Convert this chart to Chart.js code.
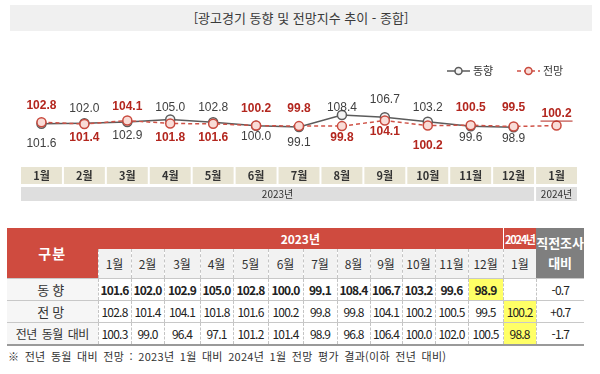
<!DOCTYPE html>
<html lang="ko">
<head>
<meta charset="utf-8">
<script src="https://cdn.jsdelivr.net/npm/chart.js@4.4.1/dist/chart.umd.min.js"></script>
<style>
  body { margin:0; width:600px; height:374px; background:#fff; position:relative; overflow:hidden;
         font-family:"Noto Sans CJK KR", sans-serif; color:#333; }
  #title { position:absolute; left:10px; top:5px; width:582px; height:26px; background:#f0f0f0;
           text-align:center; font-size:13px; line-height:26px; color:#3a3a3a; }
  #c { position:absolute; left:0; top:30px; }
  #tbl { position:absolute; left:7px; top:228px; border-collapse:collapse; table-layout:fixed; width:577px; }
  #tbl th, #tbl td { padding:0; text-align:center; white-space:nowrap; overflow:hidden; }
  #tbl .red { background:#cf4b3f; color:#fff; font-weight:bold; }
  #tbl .gubun { font-size:14px; letter-spacing:1px; }
  #tbl .y23 { font-size:12px; height:21px; }
  #tbl .y24 { font-size:11px; letter-spacing:-1.3px; border-left:1px solid #fff; }
  #tbl .prev { background:#7f7f7f; color:#fff; font-size:13px; font-weight:bold; line-height:20px; }
  #tbl .mon { background:#f2f2f2; color:#333; font-weight:normal; font-size:12px; height:29px;
              border-left:1px dashed #c4c4c4; }
  #tbl td { height:21px; font-size:12px; letter-spacing:-0.8px; color:#222;
            border-top:1px solid #c8c8c8; border-left:1px dashed #c4c4c4; }
  #tbl td.name { background:#f6f6f6; font-size:13px; letter-spacing:3px; color:#333; border-left:none; }
  #tbl td.name.long { font-size:12px; letter-spacing:-0.5px; word-spacing:2px; }
  #tbl tr.bold td { font-weight:bold; }
  #tbl tr.bold td.name, #tbl tr.bold td.chg { font-weight:normal; }
  #tbl tr:last-child td { border-bottom:2px solid #9a9a9a; }
  #tbl td.hl { background:#ffff66; }
  #note { position:absolute; left:8px; top:348px; font-size:11px; line-height:16px; color:#333;
          letter-spacing:0.3px; word-spacing:2px; }
</style>
</head>
<body>
<div id="title">[광고경기 동향 및 전망지수 추이 - 종합]</div>
<canvas id="c" width="600" height="180"></canvas>
<table id="tbl"></table>
<div id="note">※ 전년 동월 대비 전망 : 2023년 1월 대비 2024년 1월 전망 평가 결과(이하 전년 대비)</div>
<script>
// 데이터
const months = ['1월', '2월', '3월', '4월', '5월', '6월', '7월', '8월', '9월', '10월', '11월', '12월', '1월'];
const years = ['2023년', '2024년'];
const yearSpan = [12, 1];
const trend = [101.6, 102.0, 102.9, 105.0, 102.8, 100.0, 99.1, 108.4, 106.7, 103.2, 99.6, 98.9, null];
const outlook = [102.8, 101.4, 104.1, 101.8, 101.6, 100.2, 99.8, 99.8, 104.1, 100.2, 100.5, 99.5, 100.2];
const yoy = [100.3, 99.0, 96.4, 97.1, 101.2, 101.4, 98.9, 96.8, 106.4, 100.0, 102.0, 100.5, 98.8];
const change = ['-0.7', '+0.7', '-1.7'];
const rowNames = ['동향', '전망', '전년 동월 대비'];

// 라벨 위치 미세조정 (px)
const trendNudge = [6, 0, 0, 3, 0, -3, 2, 8, -3, 1, -3, -3, 0];
const outlookNudge = [-2, 0, 1, 0, 0, -2, -2, -2, -3, 6, -3, -4, 3];

const GRAY = '#5b5b5b';
const RED = '#cf5247';

// 점 위/아래 값 라벨
const labelPlugin = {
  id: 'valueLabels',
  afterDatasetsDraw(chart) {
    const ctx = chart.ctx;
    const mT = chart.getDatasetMeta(0);
    const mO = chart.getDatasetMeta(1);
    ctx.save();
    ctx.textAlign = 'center';
    ctx.textBaseline = 'middle';
    months.forEach((m, i) => {
      const items = [];
      if (trend[i] != null) items.push({ v: trend[i], p: mT.data[i], red: false, n: trendNudge[i] });
      if (outlook[i] != null) items.push({ v: outlook[i], p: mO.data[i], red: true, n: outlookNudge[i] });
      const top = items.reduce((a, b) => (b.v > a.v ? b : a), items[0]);
      items.forEach(it => {
        const above = it === top;
        const y = it.p.y + (above ? -15 : 14) + it.n;
        ctx.font = it.red ? 'bold 12px "Liberation Sans"' : '12px "Liberation Sans"';
        ctx.fillStyle = it.red ? '#b3261e' : '#404040';
        const txt = it.v.toFixed(1);
        ctx.fillText(txt, it.p.x, y);
        if (trend[i] == null) {
          const w = ctx.measureText(txt).width;
          ctx.strokeStyle = '#b3261e';
          ctx.lineWidth = 1;
          ctx.beginPath();
          ctx.moveTo(it.p.x - w / 2 - 1, y + 7.5);
          ctx.lineTo(it.p.x + w / 2 + 1, y + 7.5);
          ctx.stroke();
        }
      });
    });
    ctx.restore();
  }
};

// 월/연도 박스
const boxPlugin = {
  id: 'monthBoxes',
  afterDraw(chart) {
    const ctx = chart.ctx;
    const x = chart.scales.x;
    const bw = x.getPixelForValue(1) - x.getPixelForValue(0);
    ctx.save();
    ctx.textAlign = 'center';
    ctx.textBaseline = 'middle';
    months.forEach((m, i) => {
      const cx = x.getPixelForValue(i);
      ctx.fillStyle = '#e8e4d2';
      ctx.fillRect(cx - bw / 2 + 1, 137, bw - 2, 17);
      ctx.fillStyle = '#333';
      ctx.font = 'bold 11px "Noto Sans CJK KR"';
      ctx.fillText(m, cx, 146);
    });
    let start = 0;
    years.forEach((yr, k) => {
      const end = start + yearSpan[k] - 1;
      const l = x.getPixelForValue(start) - bw / 2 + 1;
      const r = x.getPixelForValue(end) + bw / 2 - 1;
      ctx.fillStyle = '#dedede';
      ctx.fillRect(l, 157, r - l, 14);
      ctx.fillStyle = '#333';
      ctx.font = '10px "Noto Sans CJK KR"';
      ctx.fillText(yr, (l + r) / 2, 164.5);
      start = end + 1;
    });
    ctx.restore();
  }
};

// 범례
const legendPlugin = {
  id: 'lineLegend',
  afterDraw(chart) {
    const ctx = chart.ctx;
    const entries = [
      { ds: chart.data.datasets[0], x: 447 },
      { ds: chart.data.datasets[1], x: 517 }
    ];
    ctx.save();
    entries.forEach(({ ds, x }) => {
      const y = 41;
      ctx.strokeStyle = ds.borderColor;
      ctx.lineWidth = 1.5;
      ctx.setLineDash(ds.borderDash || []);
      ctx.beginPath();
      ctx.moveTo(x, y);
      ctx.lineTo(x + 23, y);
      ctx.stroke();
      ctx.setLineDash([]);
      ctx.beginPath();
      ctx.arc(x + 11.5, y, 3.5, 0, Math.PI * 2);
      ctx.fillStyle = ds.pointBackgroundColor;
      ctx.fill();
      ctx.strokeStyle = ds.pointBorderColor;
      ctx.stroke();
      ctx.fillStyle = '#333';
      ctx.font = '11px "Noto Sans CJK KR"';
      ctx.textBaseline = 'middle';
      ctx.fillText(ds.label, x + 26, y);
    });
    ctx.restore();
  }
};

new Chart(document.getElementById('c'), {
  type: 'line',
  data: {
    labels: months,
    datasets: [
      {
        label: '동향', data: trend, order: 1,
        borderColor: GRAY, borderWidth: 1.5, tension: 0,
        pointRadius: 4.5, pointBorderWidth: 1.5,
        pointBackgroundColor: '#f4f4f4', pointBorderColor: GRAY
      },
      {
        label: '전망', data: outlook, order: 0,
        borderColor: RED, borderWidth: 1.5, borderDash: [4, 3], tension: 0,
        pointRadius: 4.5, pointBorderWidth: 1.5,
        pointBackgroundColor: '#f9dcd7', pointBorderColor: '#c94a3e'
      }
    ]
  },
  options: {
    responsive: false,
    devicePixelRatio: 1,
    animation: false,
    layout: { padding: { left: 20, right: 22, top: 50, bottom: 48 } },
    scales: {
      x: { display: false, offset: true },
      y: { display: false, min: 72, max: 135.5 }
    },
    plugins: { legend: { display: false }, tooltip: { enabled: false } }
  },
  plugins: [labelPlugin, boxPlugin, legendPlugin]
});

// 표 만들기
const colW = [91, 33, 33, 36, 33, 35, 35, 34, 33, 32, 33, 33, 35, 33, 48];
const tbl = document.getElementById('tbl');
let html = '<colgroup>' + colW.map(w => `<col style="width:${w}px">`).join('') + '</colgroup>';
html += `<tr><th class="red gubun" rowspan="2">구분</th>`;
years.forEach((yr, k) => {
  html += `<th class="red ${k === 0 ? 'y23' : 'y24'}" colspan="${yearSpan[k]}">${yr}</th>`;
});
html += `<th class="prev" rowspan="2">직전조사<br>대비</th></tr>`;
html += '<tr>' + months.map(m => `<th class="mon">${m}</th>`).join('') + '</tr>';

const rows = [trend, outlook, yoy];
const highlight = [[11], [12], [12]];
rows.forEach((vals, r) => {
  html += `<tr class="${r === 0 ? 'bold' : ''}"><td class="name${r === 2 ? ' long' : ''}">${rowNames[r]}</td>`;
  vals.forEach((v, i) => {
    const hl = highlight[r].includes(i) ? ' class="hl"' : '';
    html += `<td${hl}>${v == null ? '' : v.toFixed(1)}</td>`;
  });
  html += `<td class="chg">${change[r]}</td></tr>`;
});
tbl.innerHTML = html;
</script>
</body>
</html>
